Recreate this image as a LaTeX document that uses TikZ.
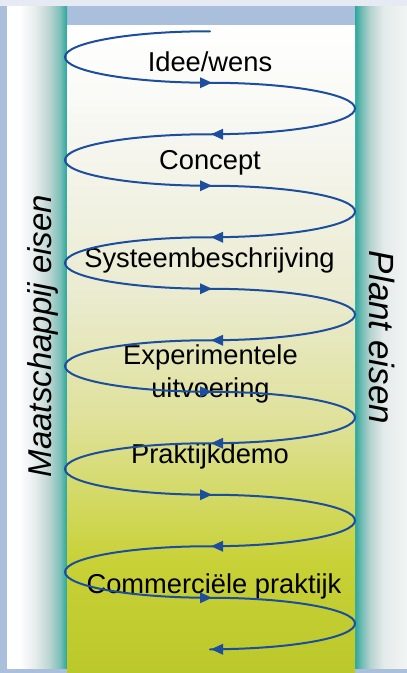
\documentclass[tikz,border=0pt]{standalone}
\usepackage{fontspec}
\setmainfont{Liberation Sans}
\usetikzlibrary{arrows.meta}
\definecolor{bgblue}{HTML}{A9BFDB}
\definecolor{topband}{HTML}{E6EAF3}
\definecolor{tealc}{HTML}{2AA79C}
\definecolor{lb1}{HTML}{E8EEED}
\definecolor{lb2}{HTML}{BCD5D2}
\definecolor{lb3}{HTML}{7DC0B8}
\definecolor{rb1}{HTML}{6FBBB3}
\definecolor{rb2}{HTML}{B8D3D0}
\definecolor{rb3}{HTML}{E4EBEA}
\definecolor{rb4}{HTML}{F2F4F4}
\definecolor{c1}{HTML}{F6F6F0}
\definecolor{c2}{HTML}{EAEBCF}
\definecolor{c3}{HTML}{DFE19A}
\definecolor{c4}{HTML}{D3D964}
\definecolor{c5}{HTML}{C8D136}
\definecolor{c6}{HTML}{BBC82A}
\definecolor{spiralc}{HTML}{1D4E9E}
\pgfdeclarehorizontalshading{leftbarshade}{100bp}{color(0bp)=(white); color(25bp)=(white); color(35bp)=(white); color(47.5bp)=(lb1); color(60bp)=(lb2); color(69bp)=(lb3); color(75bp)=(tealc); color(100bp)=(tealc)}
\pgfdeclarehorizontalshading{rightbarshade}{100bp}{color(0bp)=(tealc); color(25bp)=(tealc); color(31bp)=(rb1); color(40bp)=(rb2); color(52.5bp)=(rb3); color(75bp)=(rb4); color(100bp)=(rb4)}
\pgfdeclareverticalshading{centershade}{100bp}{color(0bp)=(c6); color(25bp)=(c6); color(33.5bp)=(c5); color(38.5bp)=(c4); color(44.5bp)=(c3); color(54bp)=(c2); color(66bp)=(c1); color(75bp)=(white); color(100bp)=(white)}
\tikzset{
  lbl/.style={inner sep=0pt, font=\fontsize{27.3}{33}\selectfont, text=black},
  sidelbl/.style={inner sep=0pt, font=\fontsize{33}{38}\selectfont\itshape, text=black},
  spiralline/.style={draw=spiralc, line width=2pt, line cap=round, line join=round},
}
\begin{document}
\begin{tikzpicture}[x=1pt,y=1pt]
\useasboundingbox (0,0) rectangle (407,-673);
\fill[bgblue] (0,0) rectangle (407,-673);
\fill[topband] (0,0) rectangle (407,-6);
\shade[shading=leftbarshade] (7,-6) rectangle (67,-668);
\shade[shading=rightbarshade] (355,-6) rectangle (407,-668);
\shade[shading=centershade] (67,-25) rectangle (355,-673);
% labels
\node[lbl, anchor=base] (idee) at (210,-71) {Idee/wens};
\node[lbl, anchor=base] (concept) at (210,-169) {Concept};
\node[lbl, anchor=base] (systeem) at (209.5,-267) {Systeembeschrijving};
\node[lbl, anchor=center, align=center] (exp) at (210.5,-374) {Experimentele\\uitvoering};
\node[lbl, anchor=base] (demo) at (210,-463) {Praktijkdemo};
\node[lbl, anchor=base] (comm) at (214,-593) {Commerciële praktijk};
\node[sidelbl, rotate=90, anchor=base] (maat) at (52,-336) {Maatschappij eisen};
\node[sidelbl, font=\fontsize{35}{40}\selectfont\itshape, rotate=-90, anchor=base] (plant) at (369,-337.5) {Plant eisen};
% spiral
\draw[spiralline] (210,-31.25)
  \foreach \i in {1,...,6}{
    arc[start angle=90, end angle=270, x radius=145, y radius=25.75]
    arc[start angle=90, end angle=-90, x radius=145, y radius=25.75]
  };
\foreach \n in {0,...,5}{
  \fill[spiralc] (212,{-82.75-103*\n}) -- ++(-12,5.5) -- ++(0,-11) -- cycle;
  \fill[spiralc] (211,{-134.25-103*\n}) -- ++(12,5.5) -- ++(0,-11) -- cycle;
}
\end{tikzpicture}
\end{document}
